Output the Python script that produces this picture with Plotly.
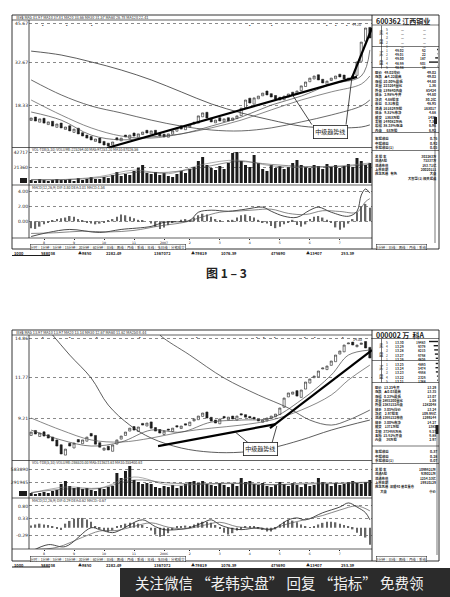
import numpy as np
import plotly.graph_objects as go

W, H = 450, 597
N = 80
IDX = list(range(N))
CJK = "Noto Sans CJK SC"
INK = "#1c1c1c"
GRID = "#8a8a8a"

# ---------------- 图一：600362 江西铜业 ----------------
c1_open = [13.2, 14.3, 12.6, 13.9, 11.8, 12.9, 10.9, 12.3, 10.2, 11.4,
           9.2, 10.6, 9.1, 8.3, 7.8, 6.2, 7.3, 6.2, 5.6, 5.0,
           7.4, 6.4, 8.3, 7.2, 9.0, 7.6, 8.5, 9.9, 8.7, 9.9,
           8.9, 8.6, 7.6, 8.6, 9.6, 11.4, 10.1, 11.0, 12.6, 12.3,
           14.4, 15.9, 13.9, 12.4, 14.1, 12.8, 14.1, 13.2, 13.8, 14.8,
           17.5, 20.6, 18.6, 20.4, 21.4, 23.0, 22.1, 21.5, 20.9, 20.1,
           21.0, 22.6, 21.9, 23.1, 24.5, 26.1, 27.0, 28.4, 26.9, 25.2,
           26.5, 27.1, 28.6, 28.3, 26.6, 27.5, 28.2, 32.9, 39.6, 44.2]
c1_close = [14.0, 13.0, 13.7, 12.3, 12.7, 11.3, 12.0, 10.7, 11.0, 9.7,
            10.3, 8.7, 8.0, 7.3, 6.7, 7.0, 5.7, 5.0, 4.7, 6.0,
            6.7, 7.3, 7.7, 8.3, 8.0, 8.7, 9.3, 9.0, 9.7, 8.7,
            8.0, 7.7, 8.7, 9.7, 10.7, 10.3, 11.3, 11.7, 12.0, 14.7,
            15.7, 14.0, 12.7, 13.3, 13.0, 13.7, 13.0, 14.0, 14.7, 17.3,
            20.0, 19.0, 20.7, 21.3, 22.3, 21.7, 21.0, 20.3, 20.0, 21.3,
            22.0, 21.7, 23.0, 24.7, 26.0, 27.3, 28.0, 26.7, 25.7, 26.3,
            27.3, 28.0, 27.7, 27.0, 27.3, 28.0, 32.7, 39.3, 44.0, 40.7]
c1_ma_idx = [0, 7, 14, 21, 28, 35, 42, 49, 56, 63, 70, 77, 79]
c1_ma250 = [36.3, 35.0, 32.7, 30.0, 26.7, 22.7, 18.7, 15.7, 13.3, 11.3, 10.7, 11.0, 11.7]
c1_ma120 = [26.7, 21.7, 18.0, 15.7, 13.3, 11.3, 10.0, 9.7, 10.7, 12.7, 15.0, 18.0, 20.0]
c1_ma60 = [20.0, 15.0, 10.7, 8.0, 7.3, 8.7, 10.7, 13.3, 16.7, 20.0, 22.7, 25.3, 28.0]
c1_ma20 = [16.0, 13.3, 8.3, 6.7, 7.7, 8.7, 11.3, 14.3, 18.3, 21.3, 25.3, 28.0, 36.7]
c1_vol = [4.2, 2.8, 5.6, 4.2, 2.8, 4.2, 5.6, 4.2,
          4.2, 5.6, 2.8, 7.0, 4.2, 5.6, 8.4, 5.6,
          5.6, 8.4, 7.0, 11.2, 15.4, 9.8, 12.6, 11.2,
          16.8, 21.0, 25.2, 14.0, 12.6, 15.4, 11.2, 14.0,
          9.8, 8.4, 12.6, 16.8, 14.0, 19.6, 22.4, 30.8,
          36.4, 25.2, 21.0, 18.2, 23.8, 19.6, 28.0, 42.0,
          43.4, 30.8, 25.2, 22.4, 39.2, 28.0, 19.6, 16.8,
          25.2, 21.0, 23.8, 19.6, 22.4, 28.0, 32.2, 25.2,
          22.4, 21.0, 25.2, 23.8, 19.6, 26.6, 22.4, 25.2,
          21.0, 23.8, 26.6, 22.4, 35.0, 30.8, 25.2, 28.0]
c1_vma_idx = [0, 8, 16, 24, 32, 40, 48, 56, 64, 72, 79]
c1_vma5 = [4.5, 5.0, 9.0, 18.0, 13.0, 26.0, 32.0, 24.0, 22.0, 24.0, 28.0]
c1_vma10 = [4.8, 4.8, 7.5, 15.0, 15.0, 22.0, 30.0, 26.0, 23.0, 23.0, 26.0]
c1_hist = [-0.9, -1.0, -0.7, -0.4, -0.2, 0.1, 0.3, 0.4,
           0.5, 0.7, 0.6, 0.3, 0.1, -0.1, -0.3, -0.4,
           -0.3, -0.2, 0.1, 0.3, 0.6, 0.9, 0.8, 0.6,
           0.4, 0.2, 0.1, 0.0, -0.3, -0.7, -1.0, -0.8,
           -0.5, -0.2, 0.0, 0.2, 0.3, 0.2, 0.5, 0.8,
           1.0, 0.9, 0.6, 0.3, 0.1, 0.0, 0.1, 0.2,
           0.5, 0.8, 0.9, 0.7, 0.5, 0.2, -0.1, -0.3,
           -0.6, -0.9, -0.7, -0.4, -0.1, 0.2, -0.5, -0.7,
           -0.4, 0.3, 0.6, 0.7, 0.5, 0.2, -0.2, -0.8,
           -1.1, -0.8, -0.3, 0.3, 1.2, 2.0, 2.3, 1.8]
c1_dif_idx = [0, 4, 9, 16, 21, 28, 31, 37, 39, 42, 46, 50, 54, 56, 59, 62, 65, 67, 70, 74, 76, 77, 78, 79]
c1_dif = [-2.0, -1.47, -1.07, -1.47, -1.07, -0.67, -0.13, 0.13, 1.2, 1.47, 1.33, 1.6,
          1.87, 1.33, 0.67, 0.53, 1.47, 1.87, 1.2, 0.67, 1.33, 3.47, 4.27, 3.73]
c1_dea_idx = [0, 6, 12, 18, 24, 30, 36, 40, 44, 48, 52, 56, 60, 64, 68, 72, 76, 78, 79]
c1_dea = [-1.6, -1.5, -1.3, -1.4, -1.2, -0.6, -0.1, 0.6, 1.2, 1.35, 1.5, 1.6,
          1.05, 0.9, 1.4, 1.3, 1.2, 2.6, 3.0]
c1_trend_main = ([17.7, 76.0], [4.0, 27.7])
c1_trend_steep = ([74.8, 79.5], [27.3, 44.0])
c1_months_idx = [3, 10, 17, 24, 31, 37, 44, 51, 58, 65, 72]
c1_months = ["8", "9", "10", "11", "2007", "2", "3", "4", "5", "6", "7"]
c1_marks_idx = [2.8, 8.4, 14.2, 51, 56.1, 69.0, 71.0, 73.6]

# ---------------- 图二：000002 万科A ----------------
c2_open = [8.30, 8.55, 8.25, 8.48, 8.33, 8.22, 8.08, 7.85, 7.38, 7.92,
           7.70, 8.10, 7.90, 8.02, 8.40, 8.30, 7.95, 7.60, 7.78, 7.55,
           7.88, 8.12, 8.30, 8.52, 8.75, 8.50, 8.92, 8.78, 9.00, 8.70,
           8.60, 8.35, 8.62, 8.50, 8.80, 8.65, 8.90, 8.80, 9.05, 9.12,
           9.30, 9.55, 9.25, 9.10, 8.90, 9.30, 9.12, 9.32, 9.10, 9.45,
           9.40, 9.30, 9.25, 9.15, 8.98, 9.05, 9.18, 9.28, 9.40, 9.82,
           10.45, 10.62, 10.85, 10.42, 10.95, 11.35, 11.72, 11.78, 12.35, 12.30,
           12.62, 12.90, 13.50, 13.68, 14.35, 14.50, 14.10, 14.30, 14.55, 14.05]
c2_close = [8.47, 8.37, 8.42, 8.27, 8.17, 8.03, 7.79, 7.43, 7.65, 7.79,
            7.93, 7.98, 8.08, 8.22, 8.27, 7.88, 7.74, 7.70, 7.61, 7.84,
            8.08, 8.27, 8.47, 8.67, 8.57, 8.73, 8.83, 8.94, 8.67, 8.52,
            8.42, 8.52, 8.57, 8.67, 8.73, 8.78, 8.83, 8.99, 9.16, 9.32,
            9.49, 9.21, 9.05, 8.94, 9.16, 9.21, 9.26, 9.16, 9.32, 9.38,
            9.26, 9.21, 9.16, 9.05, 9.10, 9.21, 9.32, 9.43, 9.78, 10.38,
            10.70, 10.76, 10.50, 10.89, 11.42, 11.63, 11.84, 12.20, 12.42, 12.57,
            12.95, 13.42, 13.75, 14.25, 14.42, 14.25, 14.25, 14.42, 14.00, 13.19]
c2_ma250_idx = [2, 5, 9, 14, 18, 23, 28, 35, 42, 49, 56, 63, 70, 79]
c2_ma250 = [16.55, 15.13, 13.42, 11.70, 9.95, 8.83, 8.17, 7.70, 7.51, 7.51, 7.70, 8.08, 8.57, 9.10]
c2_ma120_idx = [27, 30, 37, 45, 53, 60, 65, 70, 74, 79]
c2_ma120 = [16.55, 15.13, 13.42, 11.70, 10.57, 9.78, 9.10, 8.83, 9.10, 9.66]
c2_ma_idx = [0, 7, 14, 21, 28, 35, 42, 49, 56, 63, 70, 74, 79]
c2_ma60 = [9.21, 8.57, 8.08, 7.98, 8.17, 8.47, 8.67, 8.83, 9.10, 9.66, 10.57, 11.56, 12.64]
c2_ma20 = [8.57, 8.08, 7.79, 7.98, 8.57, 8.47, 8.99, 9.10, 9.21, 10.26, 11.91, 13.42, 13.83]
c2_vol = [6, 4, 6, 8, 6, 10, 12, 24,
          30, 20, 16, 18, 14, 16, 12, 10,
          16, 14, 18, 20, 46, 36, 50, 60,
          32, 28, 24, 26, 24, 18, 16, 20,
          18, 22, 16, 20, 24, 28, 30, 26,
          30, 24, 22, 20, 26, 22, 18, 24,
          20, 36, 28, 30, 24, 22, 26, 20,
          18, 22, 28, 24, 20, 26, 22, 18,
          24, 20, 22, 36, 28, 24, 20, 26,
          22, 24, 28, 30, 26, 24, 28, 32]
c2_vma_idx = [0, 8, 16, 24, 32, 40, 48, 56, 64, 72, 79]
c2_vma5 = [6, 18, 16, 38, 22, 24, 26, 22, 26, 26, 28]
c2_vma10 = [7, 14, 15, 32, 26, 24, 25, 23, 24, 25, 27]
c2_hist = [0.08, 0.12, 0.15, 0.12, 0.10, 0.06, -0.05, -0.08,
           0.15, 0.25, 0.33, 0.36, 0.36, 0.30, 0.22, 0.06,
           -0.04, -0.12, -0.15, -0.10, 0.05, 0.10, 0.15, 0.18,
           0.18, 0.15, 0.10, 0.02, -0.10, -0.25, -0.33, -0.30,
           -0.20, -0.08, 0.03, 0.06, 0.08, 0.05, 0.12, 0.18,
           0.22, 0.22, 0.18, 0.10, -0.05, -0.18, -0.25, -0.20,
           -0.10, -0.06, 0.04, 0.05, 0.03, -0.02, -0.08, -0.14,
           -0.14, -0.06, 0.12, 0.22, 0.29, 0.26, 0.20, 0.12,
           0.05, 0.02, 0.06, 0.12, 0.18, 0.22, 0.22, 0.20,
           0.15, 0.10, 0.06, -0.06, -0.18, -0.30, -0.36, -0.62]
c2_dif_idx = [0, 4, 8, 14, 16, 19, 21, 23, 26, 29, 31, 34, 37, 40, 42, 44, 46, 49, 53, 56,
              60, 62, 64, 68, 72, 74, 76, 78, 79]
c2_dif = [-0.87, -0.62, -0.69, 0.0, -0.07, -0.18, -0.07, 0.11, 0.29, 0.04, -0.07, -0.07,
          0.0, 0.18, 0.29, 0.11, 0.0, -0.07, 0.0, -0.07, 0.29, 0.36, 0.29, 0.55, 0.76,
          0.91, 0.76, 0.55, 0.29]
c2_dea_idx = [0, 6, 12, 16, 20, 24, 28, 32, 36, 40, 44, 48, 52, 56, 60, 64, 68, 72, 76, 79]
c2_dea = [-0.80, -0.72, -0.35, -0.12, -0.10, 0.05, 0.18, 0.02, -0.04, 0.08, 0.20, 0.04,
          -0.02, -0.04, 0.15, 0.30, 0.45, 0.65, 0.80, 0.62]
c2_trend_main = ([29.6, 57.1], [7.79, 8.88])
c2_trend_steep = ([55.7, 79.5], [8.67, 13.83])
c2_months_idx = [3, 10, 17, 24, 31, 37, 44, 51, 58, 65, 72]
c2_months = ["8", "9", "10", "11", "2006", "2", "3", "4", "5", "6", "7"]
c2_marks_idx = [2.8, 9.1, 15.4, 25.4, 38.7, 52.6, 54.2, 56.8, 63.8, 66.2, 72.7]

# info panel contents
c1_title = "600362 江西铜业"
c1_ask = [("—", "—")] * 5
c1_bid = [("49.02", 62), ("49.01", 22), ("49.00", 187), ("48.99", 601), ("48.98", 18)]
c1_stats = [("现价   49.02均价", "49.02"), ("涨跌   ▲4.22最高", "49.02"),
            ("涨幅  10.00%最低", "44.60"), ("总量  225264量比", "1.36"),
            ("外盘  139840内盘", "85424"), ("换手   2.98%今开", "44.60"),
            ("净资    4.68股本", "30.2亿"), ("收益    0.31市盈", "48.95"),
            ("流通  161629万股", "163017"), ("换手   9.31%市净", "4.68"),
            ("成交    1363万股", "1435"), ("金额  149082万元", "7.38"),
            ("振幅  38.53%涨速", "6.96"), ("内盘      63万股", "6.92")]
c1_fin = [("年报收益", "0.76"), ("中报收益", "0.92"), ("季报收益(1)", "0.05")]
c1_corp = [("总 股 本", "302283万"), ("流通A股", "75337万"), ("流通市值", "163.71亿"),
           ("上市日期", "20020111"), ("概念风格   有色", "大盘"), ("", "大智慧(1) 相关报道")]

c2_title = "000002 万  科A"
c2_ask = [("13.30", 19483), ("13.29", 9379), ("13.28", 8215), ("13.27", 6768), ("13.26", 4856)]
c2_bid = [("13.25", 4895), ("13.24", 5474), ("13.23", 4668), ("13.22", 2326), ("13.21", 1388)]
c2_stats = [("现价   13.25今开", "13.29"), ("涨跌   ▲0.03最高", "13.35"),
            ("涨幅   0.23%最低", "13.07"), ("总量 2865200量比", "1.08"),
            ("外盘 1583152内盘", "1282048"), ("换手   3.05%均价", "13.24"),
            ("净资    2.97股本", "109.96亿"), ("流通 1566152市值", "1299144"),
            ("换手   3.00%市净", "14.27"), ("成交    1371万股", "1385"),
            ("金额  373466万元", "6.57"), ("五档  15.61%开盘", "6.88"),
            ("内盘      36万股", "2.97")]
c2_fin = [("年报收益", "0.37"), ("中报收益", "0.28"), ("季报收益(1)", "0.07")]
c2_corp = [("总 股 本", "1099621万"), ("流通A股", "939021万"), ("流通市值", "1254.53亿"),
           ("上市日期", "19910129"), ("概念风格  深成40 基金重仓", ""), ("       大盘", "中价")]

index_row = ["1000", "588038", "▲9850", "2282.49", "1367072", "▲79819", "1076.39",
             "475690", "▲13407", "253.39"]

fig = go.Figure()
shapes, notes, layout_axes = [], [], {}


def px_x(px):
    return px / W


def px_y(py):
    return 1 - py / H


def xn(n):
    return "x" if n == 1 else f"x{n}"


def yn(n):
    return "y" if n == 1 else f"y{n}"


def seg(x0, y0, x1, y1, w=0.8, color=INK, dash=None):
    shapes.append(dict(type="line", xref="paper", yref="paper",
                       x0=px_x(x0), y0=px_y(y0), x1=px_x(x1), y1=px_y(y1),
                       line=dict(color=color, width=w, dash=dash)))


def box(x0, y0, x1, y1, fill=None, w=0.8):
    shapes.append(dict(type="rect", xref="paper", yref="paper",
                       x0=px_x(x0), y0=px_y(y1), x1=px_x(x1), y1=px_y(y0),
                       line=dict(color=INK, width=w),
                       fillcolor=fill or "rgba(0,0,0,0)"))


def txt(x, y, s, size=4.5, anchor="left", color=INK, **kw):
    notes.append(dict(x=px_x(x), y=px_y(y), xref="paper", yref="paper", text=s,
                      showarrow=False, xanchor=anchor, yanchor="middle",
                      font=dict(size=size, color=color, family=CJK), **kw))


def block(x, y0, lines, step, anchor="left", bold=False):
    # several rows of the quote panel as one multi-line text (line height = 1.3 em)
    rows = [(l if l else "\u00a0") for l in lines]
    if bold:
        rows = ["<b>" + r + "</b>" for r in rows]
    notes.append(dict(x=px_x(x), y=px_y(y0 - step / 2), xref="paper", yref="paper",
                      text="<br>".join(rows), showarrow=False, xanchor=anchor,
                      yanchor="top", align=anchor, borderpad=0,
                      font=dict(size=step / 1.3, color=INK, family=CJK)))


def add_chart(base, geo, o, c, mas, trends, vol, vma_idx, vmas, hist,
              dif_idx, dif, dea_idx, dea, yr, yticks, months_idx, months, log=False):
    kp, kv, km = base, base + 1, base + 2
    xd = [px_x(29), px_x(372)]
    hi = [max(a, b) for a, b in zip(o, c)]
    lo = [min(a, b) for a, b in zip(o, c)]
    for vals_idx, vals, col, wd in mas:
        fig.add_trace(go.Scatter(x=vals_idx, y=vals, mode="lines", line_shape="spline",
                                 line=dict(color=col, width=wd), xaxis=xn(kp), yaxis=yn(kp),
                                 showlegend=False, hoverinfo="skip"))
    fig.add_trace(go.Candlestick(
        x=IDX, open=o, high=hi, low=lo, close=c, xaxis=xn(kp), yaxis=yn(kp),
        increasing=dict(line=dict(color=INK, width=0.6), fillcolor="white"),
        decreasing=dict(line=dict(color=INK, width=0.6), fillcolor=INK),
        showlegend=False, hoverinfo="skip"))
    for tx, ty in trends:
        fig.add_trace(go.Scatter(x=tx, y=ty, mode="lines", line=dict(color="#000", width=2.2),
                                 xaxis=xn(kp), yaxis=yn(kp), showlegend=False, hoverinfo="skip"))
    # volume
    fig.add_trace(go.Bar(x=IDX, y=vol, marker=dict(color=INK, line=dict(width=0)), width=0.7,
                         xaxis=xn(kv), yaxis=yn(kv), showlegend=False, hoverinfo="skip"))
    for vals, col in zip(vmas, ["#777", "#444"]):
        fig.add_trace(go.Scatter(x=vma_idx, y=vals, mode="lines", line_shape="spline",
                                 line=dict(color=col, width=0.6), xaxis=xn(kv), yaxis=yn(kv),
                                 showlegend=False, hoverinfo="skip"))
    # MACD
    fig.add_trace(go.Bar(x=IDX, y=hist, marker=dict(color="#666", line=dict(width=0)), width=0.35,
                         xaxis=xn(km), yaxis=yn(km), showlegend=False, hoverinfo="skip"))
    fig.add_trace(go.Scatter(x=dif_idx, y=dif, mode="lines", line_shape="spline",
                             line=dict(color=INK, width=0.8), xaxis=xn(km), yaxis=yn(km),
                             showlegend=False, hoverinfo="skip"))
    fig.add_trace(go.Scatter(x=dea_idx, y=dea, mode="lines", line_shape="spline",
                             line=dict(color="#555", width=0.7), xaxis=xn(km), yaxis=yn(km),
                             showlegend=False, hoverinfo="skip"))

    for k, (a, b) in zip([kp, kv, km], geo):
        xa = dict(domain=xd, range=[-0.5, N - 0.5], anchor=yn(k), showgrid=False,
                  zeroline=False, showline=False, fixedrange=True, showticklabels=False,
                  rangeslider=dict(visible=False))
        if k == km:
            xa.update(showticklabels=True, tickvals=months_idx, ticktext=months, ticks="outside",
                      ticklen=1.2, tickcolor=INK, tickwidth=0.6,
                      tickfont=dict(size=3.2, color=INK, family="DejaVu Sans"))
        layout_axes["xaxis" if k == 1 else f"xaxis{k}"] = xa
        tv, tt = yticks[k - kp]
        layout_axes["yaxis" if k == 1 else f"yaxis{k}"] = dict(
            domain=[px_y(b), px_y(a)], range=yr[k - kp], anchor=xn(k),
            type="log" if (log and k == kp) else "linear",
            tickvals=tv, ticktext=tt, ticks="",
            tickfont=dict(size=4.5, color=INK, family="DejaVu Sans"),
            showgrid=True, gridcolor=GRID, gridwidth=0.6, griddash="dot",
            zeroline=False, showline=False, fixedrange=True)


def callout(k, centre, tips, tails, log=False):
    f = (lambda v: np.log10(v)) if log else (lambda v: v)
    for (tx, ty), (sx, sy) in zip(tips, tails):
        notes.append(dict(x=tx, y=f(ty), xref=xn(k), yref=yn(k), ax=sx, ay=f(sy),
                          axref=xn(k), ayref=yn(k), text="", showarrow=True, arrowhead=0,
                          arrowwidth=0.8, arrowcolor=INK))
    notes.append(dict(x=centre[0], y=f(centre[1]), xref=xn(k), yref=yn(k), text="中级趋势线",
                      showarrow=False, bgcolor="white", bordercolor=INK, borderwidth=0.8,
                      borderpad=1.5, font=dict(size=6, color=INK, family=CJK)))


def frame(top, bot, seps, hdr, vol_hdr, macd_hdr, marks, kp):
    box(12, top, 439, bot, w=0.9)
    seg(372, top, 372, bot, w=0.9)
    seg(29, seps[0], 29, seps[-1], w=0.8)
    for s in seps:
        seg(12, s, 372, s, w=0.7)
    txt(14, top + 2.6, hdr, size=3.8)
    txt(30, seps[1] + 2.2, vol_hdr, size=3.6)
    txt(30, seps[2] + 2.4, macd_hdr, size=3.6)
    for m in marks:
        notes.append(dict(x=m, y=px_y(seps[0] + 2), xref=xn(kp), yref="paper", text="▪",
                          showarrow=False, borderpad=0, font=dict(size=3.5, color=INK)))


def info_panel(title, title_y, ask, bid, book_y, stats, stats_y, st_step, fin, fin_y,
               corp, corp_y, lines):
    txt(374, title_y, "<b>" + title + "</b>", size=7)
    vmax = max([v for _, v in ask + bid if not isinstance(v, str)] or [1])
    step = 4.2
    for blk, (rows, y0, lab) in enumerate([(ask, book_y[0], ("卖", "盘")),
                                           (bid, book_y[1], ("买", "盘"))]):
        order = [str(5 - i) if blk == 0 else str(i + 1) for i in range(len(rows))]
        block(385, y0, order, step)
        block(405, y0, [p for p, _ in rows], step, anchor="right", bold=True)
        block(427, y0, [str(v) for _, v in rows], step, anchor="right", bold=True)
        for i, (_, v) in enumerate(rows):
            if not isinstance(v, str):
                ln = v / vmax * 9
                box(438 - ln, y0 + i * step - 0.7, 438, y0 + i * step + 0.7, fill=INK, w=0)
        txt(377, y0 + step, lab[0], size=4.4)
        txt(377, y0 + 3 * step, lab[1], size=4.4)
    seg(381.5, book_y[0] - 3, 381.5, book_y[1] + 19, w=0.6)
    block(374, stats_y, [l for l, _ in stats], st_step, bold=True)
    block(438, stats_y, [r for _, r in stats], st_step, anchor="right", bold=True)
    block(374, fin_y, [l for l, _ in fin], 4.5, bold=True)
    block(438, fin_y, [r for _, r in fin], 4.5, anchor="right", bold=True)
    block(374, corp_y, [l for l, _ in corp], 4.3, bold=True)
    block(438, corp_y, [r for _, r in corp], 4.3, anchor="right", bold=True)
    for y in lines:
        seg(372, y, 439, y, w=0.6)


def bottom_strip(y_tabs, y_row):
    txt(30, y_tabs, "分时│1分钟│5分钟│15分钟│30分钟│60分钟│日线│周线│月线│季线│年线│多日线│分笔成交",
        size=3.4, bordercolor=INK, borderwidth=0.5, borderpad=0, bgcolor="white")
    txt(376, y_tabs, "5分钟│日线│周线│月线│季线", size=3.4, bordercolor=INK, borderwidth=0.5,
        borderpad=0, bgcolor="white")
    box(12, y_row + 1.6, 50, y_row + 2.6, fill=INK, w=0)
    for s, x in zip(index_row, [13, 40, 77, 105, 153, 190, 220, 270, 305, 340]):
        txt(x, y_row, "<b>" + s + "</b>", size=4.0, borderpad=0)


# chart 1
add_chart(1, [(20, 148), (150, 183), (188, 238)], c1_open, c1_close,
          [(c1_ma_idx, c1_ma250, "#333", 0.8), (c1_ma_idx, c1_ma120, "#444", 0.8),
           (c1_ma_idx, c1_ma60, "#555", 0.7), (c1_ma_idx, c1_ma20, "#444", 0.7)],
          [c1_trend_main, c1_trend_steep], c1_vol, c1_vma_idx, [c1_vma5, c1_vma10], c1_hist,
          c1_dif_idx, c1_dif, c1_dea_idx, c1_dea,
          [[4.0, 46.67], [0, 46.2], [-2.2, 4.4]],
          [([45.67, 32.67, 18.33], ["45.67", "32.67", "18.33"]),
           ([42.7, 21.36], ["42717", "21360"]),
           ([4.0, 2.0, 0.0], ["4.00", "2.00", "0.00"])],
          c1_months_idx, c1_months)
callout(1, (69.8, 9.5), [(61.0, 21.6), (74.8, 27.3)], [(65.7, 11.3), (73.4, 11.3)])
frame(15, 249, [20, 147.5, 185, 238],
      "日线 MA5 41.97 MA10 37.81 MA20 33.66 MA30 31.57 MA60 26.78 MA120 22.41",
      "VOL-TDX(5,10) VOLUME:225264.00 MA5:97253.20 MA10:87026.56",
      "MACD(12,26,9) DIF:3.80 DEA:3.01 MACD:1.58", c1_marks_idx, 1)
txt(351, 25, "44.20", size=3.6, borderpad=0)
info_panel(c1_title, 20.5, c1_ask, c1_bid, (28.5, 49.5), c1_stats, 71, 4.45, c1_fin, 137,
           c1_corp, 155, [25, 46.5, 67.5, 132.5, 150.5])
box(20, 178, 27, 183, fill=INK, w=0)
seg(435, 117, 435, 243, w=0.6)
box(434, 117, 437, 124, fill=INK, w=0)
bottom_strip(247.0, 253.4)

# chart 2
add_chart(4, [(335, 459), (462, 496), (500, 549)], c2_open, c2_close,
          [(c2_ma250_idx, c2_ma250, "#333", 0.8), (c2_ma120_idx, c2_ma120, "#444", 0.8),
           (c2_ma_idx, c2_ma60, "#555", 0.7), (c2_ma_idx, c2_ma20, "#444", 0.7)],
          [c2_trend_main, c2_trend_steep], c2_vol, c2_vma_idx, [c2_vma5, c2_vma10], c2_hist,
          c2_dif_idx, c2_dif, c2_dea_idx, c2_dea,
          [[np.log10(7.21), np.log10(15.13)], [0, 68], [-0.78, 1.018]],
          [([14.86, 11.77, 9.21], ["14.86", "11.77", "9.21"]),
           ([54, 27], ["583890", "291945"]),
           ([0.80, 0.33, -0.29], ["0.80", "0.33", "-0.29"])],
          c2_months_idx, c2_months, log=True)
callout(4, (53.6, 7.65), [(47.5, 8.49), (57.3, 8.78)], [(51.0, 7.88), (56.1, 7.88)], log=True)
frame(330, 561, [335, 460.5, 498, 549],
      "日线 MA5 13.97 MA10 13.97 MA20 13.14 MA30 12.67 MA60 11.62 MA250 8.44",
      "VOL-TDX(5,10) VOLUME:286520.00 MA5:313623.63 MA10:355400.63",
      "MACD(12,26,9) DIF:0.29 DEA:0.62 MACD:-0.67", c2_marks_idx, 4)
txt(352, 339, "14.55", size=3.6, borderpad=0)
info_panel(c2_title, 335, c2_ask, c2_bid, (341.5, 363.5), c2_stats, 386, 4.35, c2_fin, 450,
           c2_corp, 468, [338.5, 360.5, 382.5, 446, 463.5])
box(19, 491, 27, 496, fill=INK, w=0)
seg(437, 425, 437, 555, w=0.6)
box(435.5, 425, 438.5, 434, fill=INK, w=0)
bottom_strip(558.6, 564.8)

# caption and watermark
txt(226, 272, "<b>图 1 – 3</b>", size=12, anchor="center", color="#222")
shapes.append(dict(type="rect", xref="paper", yref="paper", x0=px_x(120), x1=1,
                   y0=0, y1=px_y(568), line=dict(width=0), fillcolor="#2b2b2b"))
txt(279, 582.5, "关注微信 “老韩实盘” 回复 “指标” 免费领", size=14.5, anchor="center",
    color="#f2f2f2")

fig.update_layout(
    width=W, height=H, margin=dict(l=0, r=0, t=0, b=0),
    paper_bgcolor="white", plot_bgcolor="white",
    showlegend=False, bargap=0.3, hovermode=False,
    shapes=shapes, annotations=notes,
    font=dict(family=CJK, color=INK),
    **layout_axes,
)

# the page body has a default 8px margin; drop it so the figure fills the window
fig.write_html("out.html", config={"displayModeBar": False},
               post_script="document.body.style.margin='0px';")
